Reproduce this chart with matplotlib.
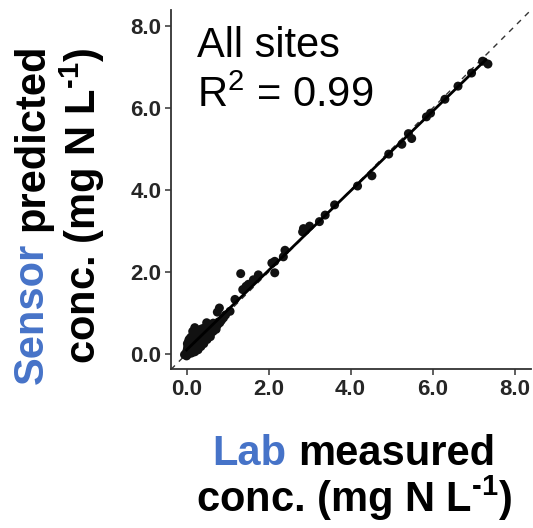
import numpy as np
import matplotlib
matplotlib.use("Agg")
import matplotlib.pyplot as plt

plt.rcParams["font.family"] = ["Liberation Sans", "DejaVu Sans"]
plt.rcParams["mathtext.fontset"] = "custom"
plt.rcParams["mathtext.rm"] = "Liberation Sans:bold"
plt.rcParams["mathtext.sf"] = "Liberation Sans"

# Lab measured vs sensor predicted nitrate (mg N / L), all sites
lab_conc = [
    7.35, 7.22, 6.95, 6.62, 6.30, 5.95, 5.85,
    5.49, 5.41, 5.25, 4.93, 4.52, 4.17, 3.61, 3.38, 3.24, 3.00, 2.85, 2.83, 2.90,
    2.40, 2.36, 2.15, 2.08, 2.15, 1.75, 1.63, 1.51, 1.32, 1.37, 1.45, 1.18, 1.06,
    0.80, 0.75, 0.81, 0.65, 0.49, 0.20,
    -0.05, 0.00, 0.02, 0.05, 0.08, 0.10, 0.12, 0.15, 0.18, 0.20, 0.22, 0.25, 0.28,
    0.30, 0.32, 0.35, 0.38, 0.40, 0.42, 0.45, 0.48, 0.50, 0.52, 0.55, 0.58, 0.60,
    0.62, 0.65, 0.68, 0.70, 0.72, 0.75, 0.78, 0.85, 0.90, 0.95, 0.05, 0.10, 0.15,
    0.25, 0.30, 0.08, 0.12, 0.00, 0.03, 0.35, 0.15, 0.02, 0.06, 0.22, 0.40,
]
sensor_conc = [
    7.08, 7.15, 6.86, 6.54, 6.22, 5.88, 5.79,
    5.26, 5.38, 5.12, 4.88, 4.35, 4.10, 3.64, 3.39, 3.23, 3.12, 3.06, 2.98, 3.02,
    2.53, 2.37, 2.26, 2.22, 1.98, 1.93, 1.81, 1.70, 1.96, 1.57, 1.65, 1.33, 1.04,
    1.12, 1.02, 0.76, 0.75, 0.76, 0.64,
    -0.02, 0.05, 0.12, 0.00, 0.08, 0.20, 0.02, 0.10, 0.25, 0.05, 0.15, 0.30, 0.10,
    0.22, 0.40, 0.18, 0.30, 0.48, 0.25, 0.38, 0.55, 0.35, 0.45, 0.60, 0.42, 0.52,
    0.66, 0.55, 0.62, 0.72, 0.60, 0.70, 0.78, 0.82, 0.88, 0.95, 0.30, 0.40, 0.45,
    0.50, 0.55, 0.22, 0.32, -0.05, 0.18, 0.60, 0.55, 0.25, 0.35, 0.42, 0.62,
]
tick_vals = [0, 2, 4, 6, 8]
tick_labels = ["0.0", "2.0", "4.0", "6.0", "8.0"]

BLUE = "#4673C8"
INK = "#262626"
TITLE_SIZE = 30

W, H = 533, 528
fig = plt.figure(figsize=(W / 100, H / 100), dpi=100, facecolor="white")
ax = fig.add_axes([171 / W, (H - 369) / H, (531 - 171) / W, (369 - 10) / H])

lo, hi = -0.38, 8.4
ax.set_xlim(lo, hi)
ax.set_ylim(-0.37, hi)

# 1:1 reference line
ax.plot([lo, hi], [lo, hi], ls=(0, (4, 4)), color="#333333", lw=1.0, zorder=1)

x = np.array(lab_conc)
y = np.array(sensor_conc)
ax.scatter(x, y, s=42, color="#111111", edgecolor="none", zorder=2)

# least-squares fit across the measured range
slope, icpt = np.polyfit(x, y, 1)
fx = np.array([0.0, x.max() - 0.05])
ax.plot(fx, slope * fx + icpt, color="black", lw=2.0, zorder=3)

for side in ("top", "right"):
    ax.spines[side].set_visible(False)
for side in ("left", "bottom"):
    ax.spines[side].set_color("#333333")
    ax.spines[side].set_linewidth(1.3)

ax.set_xticks(tick_vals, tick_labels)
ax.set_yticks(tick_vals, tick_labels)
ax.tick_params(length=4, width=1.1, color="#333333", pad=3,
               labelsize=16, labelcolor=INK)
for lab in ax.get_xticklabels() + ax.get_yticklabels():
    lab.set_fontweight("bold")

fig.text(197 / W, 1 - 57 / H, "All sites", fontsize=30, va="baseline", ha="left")
fig.text(197 / W, 1 - 107 / H, r"R$^{\mathsf{2}}$ = 0.99", fontsize=30,
         va="baseline", ha="left")

renderer = fig.canvas.get_renderer()


def text_width(s):
    probe = fig.text(0, 0, s, fontsize=TITLE_SIZE, fontweight="bold")
    w = probe.get_window_extent(renderer).width
    probe.remove()
    return w


def two_tone(first, rest, centre, base, vertical=False):
    """Bold title line whose first word is blue; centre/base in pixels from top-left."""
    full = text_width(first + " " + rest)
    kw = dict(fontsize=TITLE_SIZE, fontweight="bold", va="baseline")
    if vertical:
        y0 = centre + full / 2          # bottom end, pixels from top
        kw.update(rotation=90, rotation_mode="anchor")
        fig.text(base / W, 1 - y0 / H, first, color=BLUE, ha="left", **kw)
        fig.text(base / W, 1 - (y0 - full) / H, rest, color="black", ha="right", **kw)
    else:
        x0 = centre - full / 2
        fig.text(x0 / W, 1 - base / H, first, color=BLUE, ha="left", **kw)
        fig.text((x0 + full) / W, 1 - base / H, rest, color="black", ha="right", **kw)


unit_label = r"conc. (mg N L$^{\text{-1}}$)"

# x-axis title
two_tone("Lab", "measured", 354, 465)
fig.text(354 / W, 1 - 512 / H, unit_label, fontsize=TITLE_SIZE, fontweight="bold",
         va="baseline", ha="center")

# y-axis title
two_tone("Sensor", "predicted", 214, 43, vertical=True)
fig.text(96 / W, 1 - 206 / H, unit_label, fontsize=TITLE_SIZE, fontweight="bold",
         rotation=90, rotation_mode="anchor", va="baseline", ha="center")

fig.savefig("out.png", dpi=100, facecolor="white")
